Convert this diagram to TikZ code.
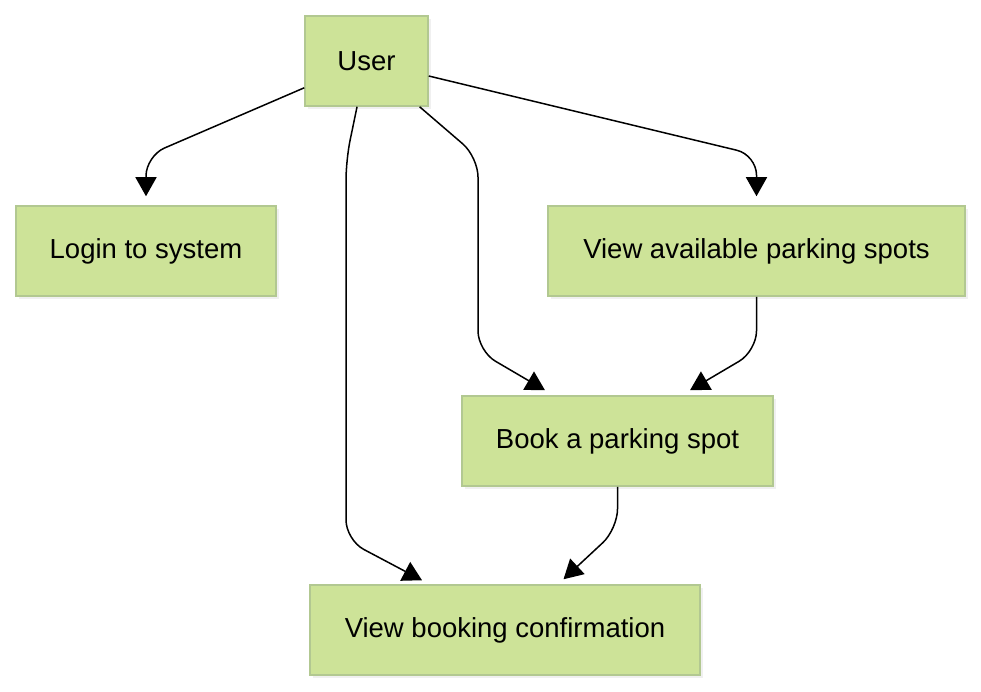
\documentclass[tikz,border=0pt]{standalone}
\usepackage{fontspec}
\setmainfont{Liberation Sans}
\usetikzlibrary{arrows.meta,shadows}

\definecolor{boxfill}{RGB}{205,227,152}
\definecolor{boxline}{RGB}{178,200,145}

\begin{document}
\begin{tikzpicture}
        [x=1pt, y=-1pt,
        box/.style={rectangle, draw=boxline, line width=1.5pt, fill=boxfill,
            minimum height=90pt, inner sep=0pt,
            font=\fontsize{27.5}{33}\selectfont,
            drop shadow={opacity=0.12, shadow xshift=3pt, shadow yshift=-3pt}},
        flow/.style={draw=black, line width=1.5pt, rounded corners=20pt,
            -{Triangle[length=19pt, width=21pt]}},]

        \useasboundingbox (0,0) rectangle (981,692);

        \node[box, minimum width=123pt] (user) at (366.5,61) {User};
        \node[box, minimum width=260pt] (login) at (146,251) {Login to system};
        \node[box, minimum width=417pt] (view) at (756.5,251) {View available parking spots};
        \node[box, minimum width=311pt] (book) at (617.5,441) {Book a parking spot};
        \node[box, minimum width=390pt] (confirm) at (505,630) {View booking confirmation};

        \draw[flow] (user) -- (146,156) -- ([yshift=9pt]login.north);
        \draw[flow] (user) -- (756.5,155) -- ([yshift=9pt]view.north);
        \draw[flow] (user) -- (478,157) -- (478,351)
            -- ([xshift=-72.5pt, yshift=5pt]book.north);
        \draw[flow] (user) -- (346,160) -- (346,540)
            -- ([xshift=-83pt, yshift=4pt]confirm.north);
        \draw[flow] (view) -- (756.5,351)
            -- ([xshift=72.5pt, yshift=5pt]book.north);
        \draw[flow] (book) -- (617.5,529)
            -- ([xshift=58.5pt, yshift=5pt]confirm.north);

    \end{tikzpicture}
\end{document}
